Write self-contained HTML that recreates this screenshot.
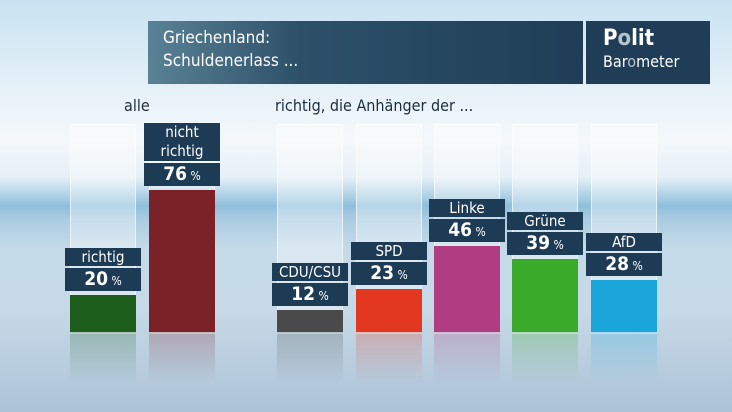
<!DOCTYPE html>
<html><head><meta charset="utf-8"><style>
body{margin:0;width:732px;height:412px;overflow:hidden;font-family:"DejaVu Sans Condensed","Liberation Sans Narrow","Liberation Sans",sans-serif}
#bg{position:absolute;left:0;top:0;width:732px;height:412px;background:linear-gradient(180deg,#c9e2f2 0%,#e6f1f8 22%,#f4f8fb 34%,#e6f0f7 43%,#b3d4e8 47%,#8fbfdc 50%,#a9cbe1 53%,#c4dae9 60%,#c6d9e8 75%,#adc3d6 100%)}
.hdr{position:absolute;top:21px;height:63px;color:#fff}
.lbl{position:absolute;background:#1e3b55;color:#fff;text-align:center}
.ghost{position:absolute;background:rgba(255,255,255,0.35);border:1px solid rgba(255,255,255,0.6)}
.sec{position:absolute;font-size:16px;color:#1e2e3e}
</style></head><body>
<div id="bg"></div>
<div class="hdr" style="left:148px;width:435px;background:linear-gradient(90deg,#5a8296 0%,#2d5069 35%,#1f3d56 100%)">
 <div style="position:absolute;left:15px;top:6px;font-size:17px;line-height:23px">Griechenland:<br>Schuldenerlass ...</div>
</div>
<div class="hdr" style="left:586px;width:124px;background:#1f3d56">
 <div style="position:absolute;left:17px;top:6px;font-size:22px;font-weight:bold;line-height:24px">P<span style="color:#b8c4cc">o</span>lit</div>
 <div style="position:absolute;left:17px;top:31px;font-size:16px;line-height:20px">Bar<span style="color:#b8c4cc">o</span>meter</div>
</div>
<div class="sec" style="left:124px;top:96px">alle</div>
<div class="sec" style="left:275px;top:96px">richtig, die Anhänger der ...</div>
<div id="chart"></div>
<script>
const categories=["richtig","nicht richtig","CDU/CSU","SPD","Linke","Grüne","AfD"];
const values=[20,76,12,23,46,39,28];
const colors=["#1d5e1c","#7a2228","#4a4a4a","#e2381f","#b03c82","#3aaa2a","#1aa6d8"];
const lefts=[70,149,277,356,434,512,591];
const base=332,scale=1.87,bw=66;
const c=document.getElementById('chart');
function y(v){return base-v*scale;}
categories.forEach((cat,i)=>{
 const x=lefts[i],top=y(values[i]);
 const g=document.createElement('div');g.className='ghost';
 
 
 g.style.cssText=`left:${x}px;top:124px;width:${bw-2}px;height:${base-124}px`;c.appendChild(g);
 const r=document.createElement('div');
 
 
 r.style.cssText=`position:absolute;left:${x}px;top:${base}px;width:${bw}px;height:50px;background:linear-gradient(180deg,${colors[i]}40,${colors[i]}00)`;c.appendChild(r);
 const b=document.createElement('div');
 
 
 b.style.cssText=`position:absolute;left:${x}px;top:${top}px;width:${bw}px;height:${base-top}px;background:${colors[i]}`;c.appendChild(b);
 const vb=document.createElement('div');vb.className='lbl';
 
 
 vb.style.cssText+=`left:${x-5}px;top:${top-27}px;width:${bw+10}px;height:23px;font-size:19px;font-weight:bold;line-height:23px`;
 vb.innerHTML=values[i]+'<span style="font-size:12px;font-weight:normal"> %</span>';c.appendChild(vb);
 const two=cat==="nicht richtig";
 const nb=document.createElement('div');nb.className='lbl';
 
 
 const h=two?38:18;
 nb.style.cssText+=`left:${x-5}px;top:${top-29-h}px;width:${bw+10}px;height:${h}px;font-size:15px;line-height:${two?19:18}px`;
 nb.innerHTML=two?'nicht<br>richtig':cat;c.appendChild(nb);
});
</script>
</body></html>
